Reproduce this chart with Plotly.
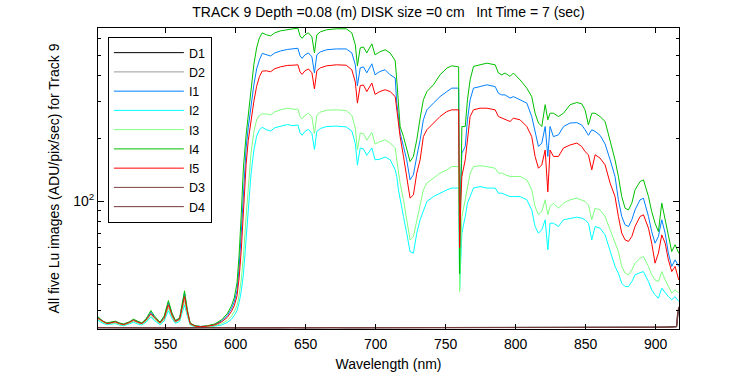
import math
import plotly.graph_objects as go

# ---------------- data ----------------
wavelength = [
    501.5, 505, 508, 511, 514, 517, 520, 524, 527, 530,
    533, 536, 539.5, 542, 546, 549, 552, 554.5, 557, 560,
    563.5, 565.5, 567.5, 571, 575, 580, 585, 590, 594, 597,
    599, 601, 602.5, 604, 605.6, 607.5, 609, 611, 613, 615,
    617, 619, 622, 625, 628, 632, 637, 641, 644.5, 646,
    647.5, 649.5, 652, 654.5, 656.3, 658, 660.5, 665, 672, 679,
    683, 685.5, 687, 689, 691.3, 693.7, 697.3, 699.6, 703, 706.8,
    710.4, 714, 715.1, 716.3, 717.5, 719.9, 722.2, 724.6, 727, 729.4,
    731.8, 734.1, 736.6, 741.3, 746, 750.9, 754.4, 759.3, 760, 760.8,
    761.6, 764, 765.6, 767.5, 769.9, 774.6, 779.4, 785.4, 787.7, 790.1,
    792.5, 796, 798.4, 803.2, 808, 811.5, 813.9, 816.3, 818.7, 821.1,
    823, 824.6, 827, 830.6, 834.2, 838.9, 843.7, 847.2, 849.6, 852,
    854.4, 856.8, 860.3, 863.9, 867.5, 871, 873.4, 875.8, 878.2, 880.6,
    883, 885.3, 888.9, 891.3, 894.9, 897.2, 899.6, 902, 904.4, 906.8,
    909.1, 911.5, 913.9, 916.5,
]

I1 = [
    27.9, 26.7, 26.1, 26.3, 26.6, 26.1, 25.8, 26.4, 27.1, 26.6,
    26.1, 27.2, 29.5, 28.0, 26.3, 28.0, 32.8, 29.0, 26.8, 27.5,
    36.2, 30.0, 26.1, 25.4, 25.2, 25.3, 25.7, 26.8, 28.4, 30.6,
    33.0, 37.5, 48, 70, 115, 180, 225, 290, 360, 430,
    475, 510, 502, 496, 513, 524, 533, 535, 540, 497,
    483, 502, 513, 491, 411, 502, 519, 531, 536, 536,
    513, 450, 357, 435, 440, 412, 455, 403, 418, 426,
    403, 389, 295, 254.5, 212, 183, 158, 126.7, 134, 164,
    197, 245.5, 274, 295, 317, 335, 348, 348, 50, 120,
    170, 183, 245.5, 306, 348, 354, 361, 354, 329, 323,
    323, 312, 317, 306, 295, 254.5, 212, 183, 190, 228,
    164, 228, 204, 208, 228, 237, 238, 232, 220, 207,
    220, 216, 207, 188, 158, 131.5, 101.7, 84.6, 77.2, 75.8,
    81.6, 91, 101.7, 103.5, 84.6, 71.7, 63.1, 67.9, 81.6, 70.4,
    56.5, 48.8, 52.5, 48.8,
]

I2 = [
    27.0, 26.1, 25.7, 25.8, 26.0, 25.6, 25.4, 25.9, 26.4, 25.9,
    25.6, 26.4, 27.9, 26.9, 25.7, 26.8, 30.0, 27.6, 26.1, 26.6,
    32.0, 28.4, 25.6, 25.1, 24.9, 25.0, 25.2, 25.6, 26.3, 27.3,
    28.4, 30.0, 32.8, 37, 45, 65, 92, 135, 175, 205,
    220, 226, 220, 217, 225, 229, 233, 230, 232, 213,
    207, 216, 221, 211, 177, 216, 223, 228, 229, 227,
    217, 189, 149, 180, 178, 166, 180, 158, 159, 163,
    158, 141.5, 131.5, 113.5, 101.7, 84.6, 70.4, 57.5, 56.5, 70.4,
    81.6, 91, 99.8, 105.4, 109.4, 113.5, 115.7, 115.7, 38, 50,
    70.4, 84.6, 98, 105.4, 115.7, 117.7, 115.7, 115.7, 109.4, 109.4,
    107.4, 105.4, 105.4, 105.4, 101.7, 91, 75.8, 70.4, 73.1, 81.6,
    58.6, 78.6, 78.6, 75.8, 81.6, 83.1, 84, 83.1, 81.6, 78.6,
    65.4, 75.8, 74.4, 69.1, 58.6, 48.8, 45.3, 40.6, 39.1, 39.1,
    41.3, 44.5, 45.6, 46.1, 41.3, 37.7, 35.7, 34.4, 38.4, 36.4,
    35.0, 33.8, 35.0, 33.2,
]

I3 = [
    27.4, 26.4, 25.9, 26.0, 26.2, 25.8, 25.6, 26.1, 26.7, 26.2,
    25.8, 26.7, 28.5, 27.3, 26.0, 27.2, 31.0, 28.1, 26.4, 27.0,
    33.5, 29.0, 25.8, 25.2, 25.0, 25.1, 25.4, 26.0, 26.9, 28.2,
    29.6, 31.8, 35.5, 42, 55, 85, 120, 170, 215, 245,
    258, 262, 262, 259, 268, 274, 279, 276, 276, 255,
    248, 258, 264, 252, 211, 258, 267, 273, 274, 272,
    258, 224, 176, 212, 211, 196, 214, 188, 193, 197,
    190, 180, 158, 136.4, 122.2, 101.7, 81.6, 65.4, 67.9, 81.6,
    98, 113.5, 122.2, 129, 136.4, 141.5, 146.7, 146.7, 37, 60,
    84.6, 101.7, 117.7, 136.4, 146.7, 148, 146.7, 144, 136.4, 136.4,
    134, 131.5, 131.5, 131.5, 126.7, 113.5, 94.4, 86.2, 89.4, 101.7,
    86.2, 94.4, 98, 92.7, 98, 101.7, 103.6, 101.7, 99.8, 96.2,
    81.6, 92.7, 91, 84.6, 73.1, 62, 57.5, 48.8, 45.3, 44.5,
    47.0, 50.6, 53.4, 54.4, 48.8, 44.5, 42.1, 41.3, 46.1, 42.1,
    39.1, 36.4, 37.7, 36.4,
]

I4 = [
    28.1, 26.8, 26.2, 26.4, 26.7, 26.2, 25.9, 26.5, 27.3, 26.7,
    26.2, 27.4, 30.0, 28.3, 26.4, 28.3, 33.5, 29.3, 26.9, 27.7,
    37.3, 30.3, 26.2, 25.4, 25.2, 25.4, 25.9, 27.1, 29.0, 31.6,
    34.5, 40.7, 55.5, 86.2, 146, 208, 254, 342, 450, 542,
    606, 640, 626, 619, 640, 654, 665, 669, 673, 619,
    602, 626, 640, 612, 513, 626, 647, 662, 669, 669,
    640, 561, 445, 542, 548, 513, 567, 502, 519, 531,
    513, 470, 381, 274, 228, 204, 176, 155, 164, 197,
    250, 306, 335, 361, 403, 434, 445, 440, 45, 150,
    228, 228, 306, 381, 442, 450, 458, 450, 411, 403,
    411, 396, 411, 381, 348, 317, 264, 237, 228, 290,
    245.5, 264, 264, 254.5, 264, 290, 297, 293, 274, 232,
    264, 264, 254.5, 241, 197, 158, 131.5, 105.4, 92.7, 91,
    98, 113.5, 124.4, 126.7, 105.4, 89.4, 78.6, 71.7, 98, 81.6,
    67.9, 57.5, 62, 56.5,
]

I5 = [
    27.6, 26.6, 26.0, 26.2, 26.5, 26.0, 25.7, 26.3, 27.0, 26.4,
    26.0, 27.0, 29.0, 27.7, 26.2, 27.6, 32.0, 28.6, 26.6, 27.3,
    35.0, 29.6, 26.0, 25.3, 25.1, 25.3, 25.6, 26.5, 27.8, 29.7,
    31.6, 35.3, 43, 58, 92, 150, 195, 250, 300, 355,
    395, 420, 421, 417, 431, 440, 447, 448, 450, 416,
    405, 421, 430, 412, 345, 421, 435, 445, 450, 448,
    426, 372, 295, 358, 360, 335, 368, 325, 335, 342,
    335, 317, 274, 237, 204, 164, 131.5, 103.6, 107.4, 136.4,
    158, 204, 220, 237, 254.5, 269, 274, 274, 60, 100,
    131.5, 158, 197, 254.5, 274, 279, 279, 274, 254.5, 250,
    245.5, 241, 250, 245.5, 228, 204, 164, 144, 149.5, 176,
    111, 176, 164, 164, 180, 186, 190, 183, 173, 167,
    141.5, 167, 161, 149.5, 122.2, 105.4, 84.6, 70.4, 65.4, 64.3,
    67.9, 75.8, 84.6, 86.2, 74.4, 63.1, 50.6, 56.5, 69.1, 63.1,
    52.5, 46.1, 48.8, 42.1,
]

dark_wavelength = [
    501.5, 510, 520, 530, 540, 550, 560, 570, 580, 590,
    600, 610, 620, 630, 640, 650, 660, 670, 680, 690,
    700, 710, 720, 730, 740, 750, 760, 770, 780, 790,
    800, 810, 820, 830, 840, 850, 860, 870, 880, 890,
    900, 905, 910, 913, 915, 915.5, 916.5,
]
D1 = [
    24.85, 24.8, 24.8, 24.85, 24.8, 24.8, 24.8, 24.85, 24.8, 24.8,
    24.8, 24.85, 24.8, 24.8, 24.8, 24.8, 24.85, 24.8, 24.8, 24.8,
    24.8, 24.85, 24.8, 24.8, 24.8, 24.8, 24.85, 24.8, 24.8, 24.8,
    24.8, 24.8, 24.85, 24.8, 24.8, 24.8, 24.8, 24.85, 24.8, 24.85,
    24.9, 24.95, 25.0, 25.05, 25.1, 27.0, 30.5,
]
D2 = [
    24.8, 24.85, 24.8, 24.8, 24.85, 24.8, 24.8, 24.8, 24.85, 24.8,
    24.8, 24.8, 24.85, 24.8, 24.8, 24.85, 24.8, 24.8, 24.8, 24.85,
    24.8, 24.8, 24.8, 24.85, 24.8, 24.8, 24.8, 24.85, 24.8, 24.8,
    24.85, 24.8, 24.8, 24.8, 24.85, 24.8, 24.8, 24.8, 24.85, 24.8,
    24.9, 24.9, 25.0, 25.05, 25.1, 27.5, 31.0,
]
D3 = [
    24.9, 24.8, 24.85, 24.8, 24.9, 24.8, 24.75, 24.85, 24.8, 24.9,
    24.8, 24.85, 24.8, 24.75, 24.8, 24.85, 24.8, 24.9, 24.8, 24.8,
    24.85, 24.8, 24.75, 24.8, 24.85, 24.8, 24.9, 24.8, 24.8, 24.85,
    24.8, 24.8, 24.9, 24.8, 24.85, 24.8, 24.8, 24.85, 24.8, 24.9,
    24.95, 25.0, 25.05, 25.1, 25.2, 28.5, 31.3,
]
D4 = [
    24.85, 24.9, 24.8, 24.85, 24.8, 24.85, 24.8, 24.8, 24.9, 24.8,
    24.85, 24.8, 24.8, 24.85, 24.9, 24.8, 24.8, 24.85, 24.8, 24.9,
    24.8, 24.85, 24.8, 24.8, 24.8, 24.9, 24.8, 24.85, 24.8, 24.8,
    24.9, 24.85, 24.8, 24.8, 24.9, 24.8, 24.85, 24.8, 24.8, 24.85,
    24.9, 25.0, 25.0, 25.1, 25.15, 28.0, 31.0,
]

series_names = ["D1", "D2", "I1", "I2", "I3", "I4", "I5", "D3", "D4"]
series_colors = ["#000000", "#999999", "#0080ff", "#00ffff", "#80ff80",
                 "#00c000", "#ff0000", "#804040", "#703838"]

x_tick_values = [550, 600, 650, 700, 750, 800, 850, 900]
y_major_ticks = [100]
y_major_text = ["10<sup>2</sup>"]
y_minor_ticks = [30, 40, 50, 60, 70, 80, 90, 200, 300, 400, 500, 600]

# ---------------- figure ----------------
FONT = "Liberation Sans, Arial, Helvetica, sans-serif"
series_y = {"D1": D1, "D2": D2, "I1": I1, "I2": I2, "I3": I3,
            "I4": I4, "I5": I5, "D3": D3, "D4": D4}

fig = go.Figure()
for name, color in zip(series_names, series_colors):
    xs = dark_wavelength if name.startswith("D") else wavelength
    fig.add_trace(go.Scatter(x=xs, y=series_y[name], mode="lines", name=name,
                             line=dict(color=color, width=1)))

fig.update_layout(
    width=750, height=375,
    margin=dict(l=98, r=71, t=28, b=46),
    paper_bgcolor="white", plot_bgcolor="white",
    font=dict(family=FONT, size=14, color="black"),
    title=dict(text="TRACK 9 Depth =0.08 (m) DISK size =0 cm   Int Time = 7 (sec)",
               x=0.5, xref="paper", xanchor="center",
               y=1 - 12.5 / 375, yref="container", yanchor="middle",
               font=dict(family=FONT, size=14, color="black")),
    showlegend=True,
    legend=dict(x=0.017, y=0.970, xanchor="left", yanchor="top",
                bgcolor="white", bordercolor="black", borderwidth=1,
                font=dict(family=FONT, size=12.5, color="black"),
                itemwidth=70, tracegroupgap=0),
)

fig.update_xaxes(
    range=[501.7, 916.7], tickmode="array", tickvals=x_tick_values,
    ticks="inside", ticklen=5, tickwidth=1, tickcolor="black",
    showline=True, linecolor="black", linewidth=1, mirror="ticks",
    showgrid=False, zeroline=False, ticklabelstandoff=2, automargin=False,
    tickfont=dict(family=FONT, size=14, color="black"),
    title=dict(text="Wavelength (nm)", font=dict(family=FONT, size=14, color="black"),
               standoff=8),
)
fig.update_yaxes(
    type="log", range=[math.log10(24.5), math.log10(675)],
    tickmode="array", tickvals=y_major_ticks, ticktext=y_major_text,
    ticks="inside", ticklen=6, tickwidth=1, tickcolor="black",
    minor=dict(tickmode="array", tickvals=y_minor_ticks, ticks="inside",
               ticklen=3, tickwidth=1, tickcolor="black", showgrid=False),
    showline=True, linecolor="black", linewidth=1, mirror="ticks",
    showgrid=False, zeroline=False, automargin=False,
    tickfont=dict(family=FONT, size=14, color="black"),
    title=dict(text="All five Lu images (ADU/pix/sec) for Track 9",
               font=dict(family=FONT, size=14, color="black"), standoff=10),
)

# the page body has a default 8px margin; remove it so the figure sits at (0, 0)
fig.write_html("out.html", config={"displayModeBar": False},
               post_script="document.body.style.margin='0px';")
